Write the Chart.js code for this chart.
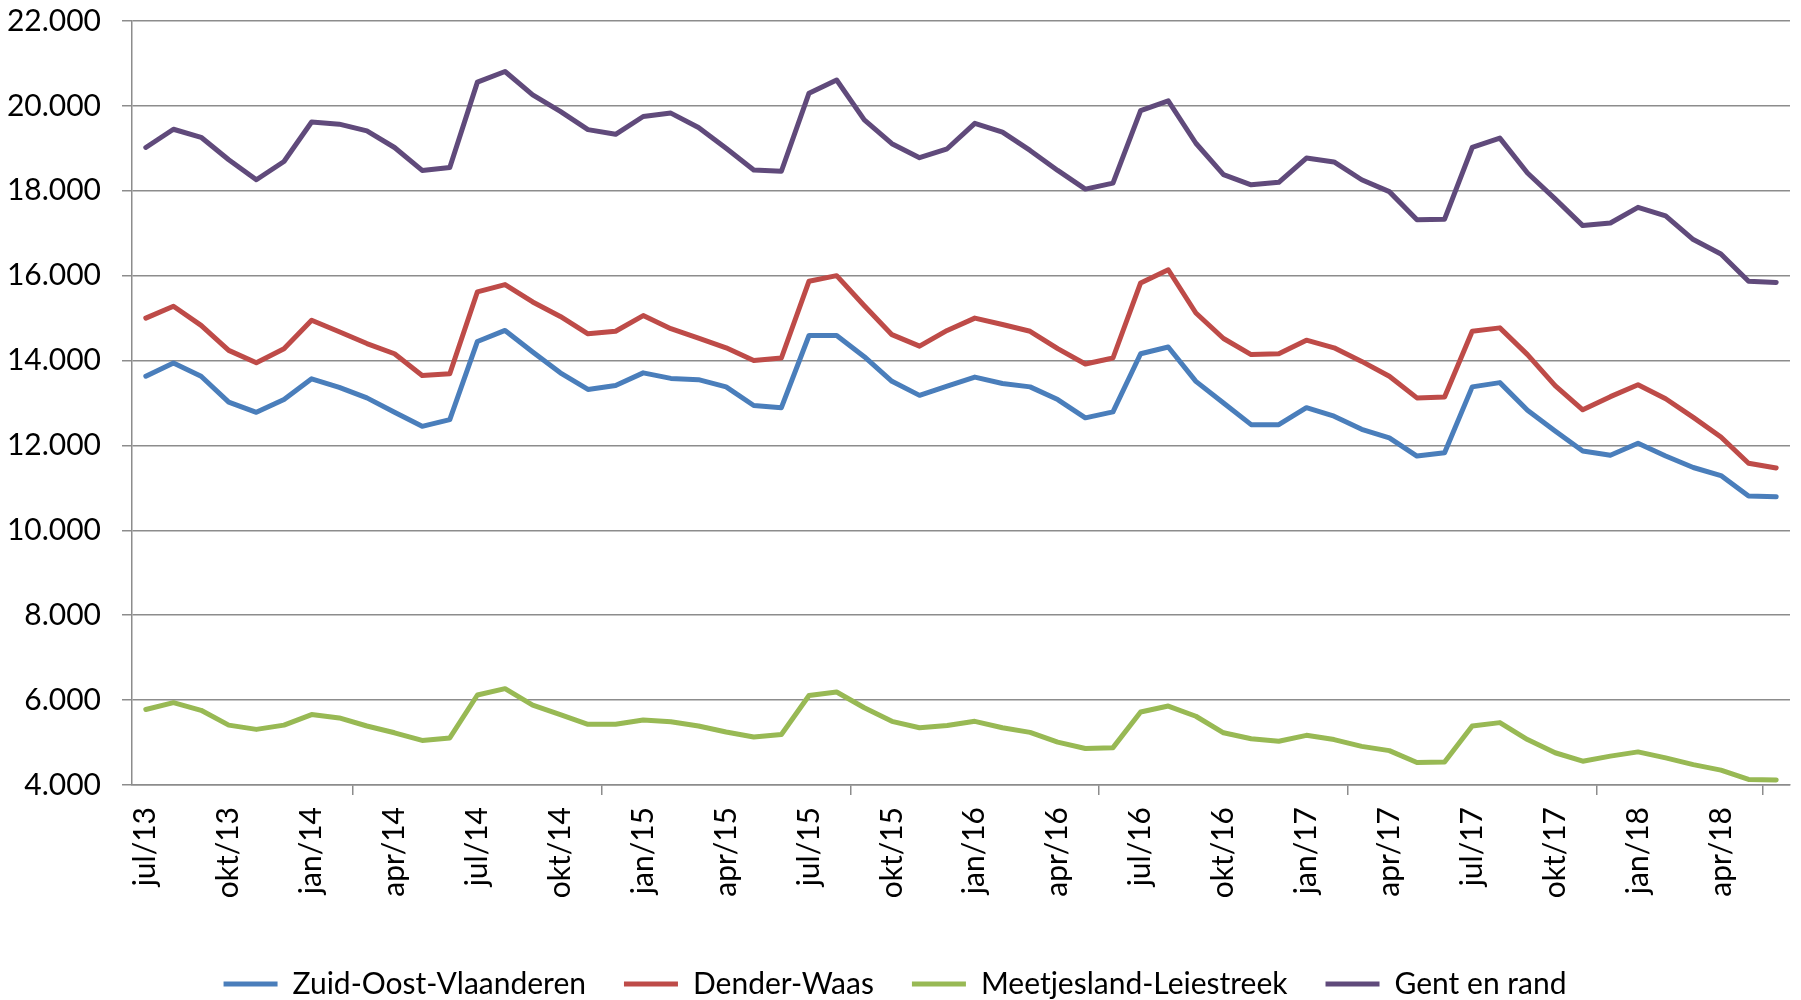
<!DOCTYPE html>
<html>
<head>
<meta charset="utf-8">
<title>Werkzoekenden per regio</title>
<script src="https://cdn.jsdelivr.net/npm/chart.js@4.4.1/dist/chart.umd.min.js"></script>
<style>
  html, body { margin: 0; padding: 0; background: #fff; overflow: hidden; }
  #wrap { width: 1801px; height: 1009px; }
</style>
</head>
<body>
<div id="wrap"><canvas id="main-chart" width="1801" height="1009"></canvas></div>
<script>
// --- DATA ---
const months = [
  'jul/13', 'aug/13', 'sep/13', 'okt/13', 'nov/13', 'dec/13', 'jan/14', 'feb/14', 'mrt/14', 'apr/14', 'mei/14', 'jun/14',
  'jul/14', 'aug/14', 'sep/14', 'okt/14', 'nov/14', 'dec/14', 'jan/15', 'feb/15', 'mrt/15', 'apr/15', 'mei/15', 'jun/15',
  'jul/15', 'aug/15', 'sep/15', 'okt/15', 'nov/15', 'dec/15', 'jan/16', 'feb/16', 'mrt/16', 'apr/16', 'mei/16', 'jun/16',
  'jul/16', 'aug/16', 'sep/16', 'okt/16', 'nov/16', 'dec/16', 'jan/17', 'feb/17', 'mrt/17', 'apr/17', 'mei/17', 'jun/17',
  'jul/17', 'aug/17', 'sep/17', 'okt/17', 'nov/17', 'dec/17', 'jan/18', 'feb/18', 'mrt/18', 'apr/18', 'mei/18', 'jun/18'
];

const zuidOostVlaanderen = [
  13630, 13945, 13630, 13020, 12780, 13080, 13570, 13370, 13120, 12780, 12450, 12610,
  14450, 14710, 14200, 13710, 13320, 13410, 13710, 13580, 13550, 13380, 12940, 12890,
  14590, 14590, 14090, 13510, 13180, 13400, 13610, 13460, 13380, 13080, 12650, 12790,
  14160, 14320, 13510, 13000, 12490, 12490, 12890, 12690, 12380, 12180, 11750, 11830,
  13380, 13480, 12830, 12340, 11870, 11770, 12050, 11750, 11480, 11290, 10810, 10790
];

const denderWaas = [
  15000, 15280, 14830, 14240, 13950, 14280, 14950, 14680, 14400, 14160, 13650, 13690,
  15620, 15790, 15380, 15040, 14630, 14690, 15060, 14750, 14530, 14300, 14000, 14060,
  15870, 16000, 15290, 14610, 14340, 14710, 15000, 14850, 14690, 14280, 13920, 14060,
  15830, 16140, 15120, 14520, 14140, 14160, 14480, 14300, 13980, 13630, 13120, 13140,
  14690, 14770, 14140, 13410, 12840, 13150, 13430, 13100, 12660, 12200, 11580, 11470
];

const meetjeslandLeiestreek = [
  5780, 5940, 5760, 5410, 5310, 5410, 5660, 5580, 5390, 5230, 5050, 5110,
  6120, 6270, 5880, 5660, 5430, 5430, 5530, 5490, 5390, 5250, 5130, 5190,
  6110, 6190, 5820, 5500, 5350, 5400, 5500, 5350, 5240, 5010, 4860, 4880,
  5720, 5860, 5620, 5230, 5090, 5030, 5170, 5070, 4910, 4810, 4530, 4540,
  5390, 5470, 5070, 4760, 4560, 4680, 4780, 4640, 4480, 4350, 4130, 4120
];

const gentEnRand = [
  19020, 19450, 19260, 18730, 18260, 18690, 19620, 19570, 19410, 19020, 18480, 18550,
  20560, 20810, 20260, 19870, 19440, 19330, 19750, 19830, 19490, 19000, 18490, 18460,
  20300, 20610, 19670, 19110, 18780, 18990, 19590, 19380, 18950, 18480, 18040, 18180,
  19890, 20120, 19120, 18380, 18140, 18200, 18770, 18680, 18260, 17980, 17320, 17330,
  19020, 19240, 18420, 17810, 17180, 17240, 17610, 17410, 16850, 16510, 15870, 15840
];

const seriesNames = ['Zuid-Oost-Vlaanderen', 'Dender-Waas', 'Meetjesland-Leiestreek', 'Gent en rand'];
const seriesColors = ['#4a7ebb', '#be4b48', '#98b954', '#604a7b'];

// --- HELPERS ---
const gridColor = '#8c8c8c';
const fontFamily = 'Lato, "Liberation Sans", sans-serif';
const fontSize = 30;

function formatThousands(v) {
  return String(v).replace(/\B(?=(\d{3})+(?!\d))/g, '.');
}

function makeLine(label, data, color) {
  return {
    label: label,
    data: data,
    borderColor: color,
    backgroundColor: color,
    borderWidth: 5,
    pointRadius: 0,
    pointHoverRadius: 0,
    tension: 0,
    fill: false,
    borderJoinStyle: 'round',
    borderCapStyle: 'round'
  };
}

// --- CHART ---
function renderChart() {
  const ctx = document.getElementById('main-chart');
  const allSeries = [zuidOostVlaanderen, denderWaas, meetjeslandLeiestreek, gentEnRand];
  const datasets = allSeries.map((s, i) => makeLine(seriesNames[i], s, seriesColors[i]));

  new Chart(ctx, {
    type: 'line',
    data: { labels: months, datasets: datasets },
    options: {
      responsive: false,
      animation: false,
      events: [],
      layout: { padding: { top: 0, right: 11, left: 0, bottom: 0 } },
      plugins: {
        tooltip: { enabled: false },
        legend: {
          position: 'bottom',
          labels: {
            color: '#000',
            font: { family: fontFamily, size: fontSize },
            usePointStyle: true,
            pointStyle: 'line',
            pointStyleWidth: 54,
            padding: 38
          }
        }
      },
      scales: {
        x: {
          offset: true,
          afterFit: scale => { scale.height = 146; },
          grid: {
            offset: true,
            drawOnChartArea: false,
            tickLength: 10,
            lineWidth: 1.5,
            color: c => (c.index === undefined || c.index % 3 === 0) ? gridColor : 'rgba(0,0,0,0)'
          },
          border: { color: gridColor, width: 1.5 },
          ticks: {
            autoSkip: false,
            minRotation: 90,
            maxRotation: 90,
            padding: 12,
            color: '#000',
            font: { family: fontFamily, size: fontSize },
            callback: function (value, index) {
              return index % 3 === 0 ? months[index] : null;
            }
          }
        },
        y: {
          min: 4000,
          max: 22000,
          afterFit: scale => {
            scale.width = 132;
            scale.paddingTop = 21;
            scale.paddingBottom = 0;
          },
          grid: { color: gridColor, lineWidth: 1.5, tickLength: 10 },
          border: { color: gridColor, width: 1.5 },
          ticks: {
            stepSize: 2000,
            padding: 21,
            color: '#000',
            font: { family: fontFamily, size: fontSize },
            callback: v => formatThousands(v)
          }
        }
      }
    }
  });
}

renderChart();
</script>
</body>
</html>
